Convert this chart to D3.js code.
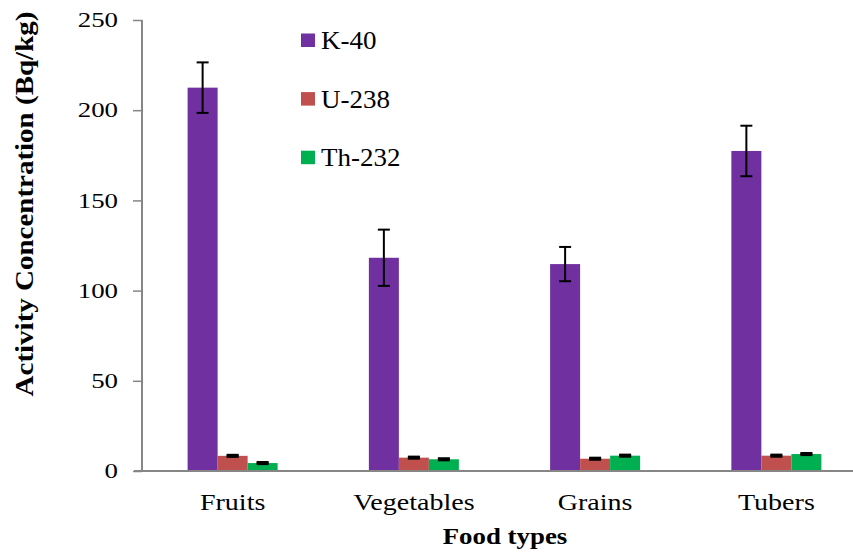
<!DOCTYPE html>
<html>
<head>
<meta charset="utf-8">
<script src="https://cdn.jsdelivr.net/npm/d3@7"></script>
<style>
  html, body { margin: 0; padding: 0; background: #fff; }
  svg { display: block; }
</style>
</head>
<body>
<svg id="chart" width="853" height="555"></svg>
<script>
// Activity concentration by food type
const categories = ["Fruits", "Vegetables", "Grains", "Tubers"];
const seriesNames = ["K-40", "U-238", "Th-232"];
const k40 = [212.5, 118.2, 114.7, 177.4];
const k40Err = [14.0, 15.6, 9.5, 14.0];
const u238 = [8.4, 7.4, 6.8, 8.5];
const u238Err = [0.3, 0.3, 0.3, 0.3];
const th232 = [4.4, 6.5, 8.5, 9.4];
const th232Err = [0.3, 0.3, 0.3, 0.3];
const yTicks = [0, 50, 100, 150, 200, 250];
const colors = ["#7030A0", "#C0504D", "#00B050"];

const seriesValues = [k40, u238, th232];
const seriesErrors = [k40Err, u238Err, th232Err];

const FONT = "Liberation Serif, Times New Roman, serif";
const svg = d3.select("#chart");
const plotLeft = 142, plotRight = 867, plotTop = 20, plotBottom = 471;

const x0 = d3.scaleBand().domain(categories).range([plotLeft, plotRight]).paddingInner(0).paddingOuter(0);
const x1 = d3.scaleBand().domain(seriesNames).range([0, x0.bandwidth()]).paddingInner(0).paddingOuter(1.52);
const y = d3.scaleLinear().domain([0, 250]).range([plotBottom, plotTop]);

const axisColor = "#868686";

// bars
const rows = [];
categories.forEach((c, i) => {
  seriesNames.forEach((s, j) => {
    rows.push({ cat: c, series: s, value: seriesValues[j][i], err: seriesErrors[j][i], color: colors[j] });
  });
});

svg.append("g").selectAll("rect").data(rows).join("rect")
  .attr("x", d => x0(d.cat) + x1(d.series))
  .attr("y", d => y(d.value))
  .attr("width", x1.bandwidth())
  .attr("height", d => y(0) - y(d.value))
  .attr("fill", d => d.color);

// error bars
const eb = svg.append("g").attr("stroke", "#000").attr("stroke-width", 2);
rows.forEach(d => {
  const cx = x0(d.cat) + x1(d.series) + x1.bandwidth() / 2;
  const y1 = y(d.value + d.err), y2 = y(d.value - d.err);
  const capW = d.err < 1 ? 3 : 2;
  eb.append("line").attr("x1", cx).attr("x2", cx).attr("y1", y1).attr("y2", y2);
  eb.append("line").attr("x1", cx - 6).attr("x2", cx + 6).attr("y1", y1).attr("y2", y1).attr("stroke-width", capW);
  eb.append("line").attr("x1", cx - 6).attr("x2", cx + 6).attr("y1", y2).attr("y2", y2).attr("stroke-width", capW);
});

// y axis
const ySX = 1.28;
const yAxis = svg.append("g").attr("transform", `translate(${plotLeft},0)`)
  .call(d3.axisLeft(y).tickValues(yTicks).tickSize(9).tickPadding(15).tickFormat(d3.format("d")));
yAxis.attr("font-family", FONT);
yAxis.select(".domain").attr("stroke", axisColor).attr("stroke-width", 2).attr("d", `M0,${plotTop}V${plotBottom}`);
yAxis.selectAll(".tick line").attr("stroke", axisColor).attr("stroke-width", 1.5);
yAxis.selectAll(".tick text")
  .attr("font-size", 21).attr("font-family", FONT).attr("fill", "#000")
  .attr("x", -24 / ySX).attr("transform", `scale(${ySX},1)`);

// x axis
const xSX = 1.22;
const xAxis = svg.append("g").attr("transform", `translate(0,${plotBottom})`)
  .call(d3.axisBottom(x0).tickSize(0).tickPadding(23));
xAxis.attr("font-family", FONT);
xAxis.select(".domain").attr("stroke", axisColor).attr("stroke-width", 2).attr("d", `M${plotLeft - 8},0H${plotRight}`);
xAxis.selectAll(".tick text")
  .attr("font-size", 23).attr("font-family", FONT).attr("fill", "#000")
  .attr("transform", `scale(${xSX},1)`);

// axis titles
svg.append("text")
  .attr("transform", "translate(33,204) rotate(-90) scale(1,0.84)")
  .attr("text-anchor", "middle")
  .attr("font-family", FONT)
  .attr("font-size", 29).attr("font-weight", "bold")
  .text("Activity Concentration (Bq/kg)");

svg.append("text")
  .attr("transform", "translate(505,544) scale(1.12,1)")
  .attr("text-anchor", "middle")
  .attr("font-family", FONT)
  .attr("font-size", 24).attr("font-weight", "bold")
  .text("Food types");

// legend
const legend = svg.append("g").attr("font-family", FONT);
seriesNames.forEach((s, i) => {
  legend.append("rect")
    .attr("x", 301).attr("y", 33.5 + i * 58.6)
    .attr("width", 14).attr("height", 13.5)
    .attr("fill", colors[i]);
  legend.append("text")
    .attr("transform", `translate(321,${49.3 + i * 58.4}) scale(1.08,1)`)
    .attr("font-size", 25).attr("fill", "#000")
    .text(s);
});
</script>
</body>
</html>
